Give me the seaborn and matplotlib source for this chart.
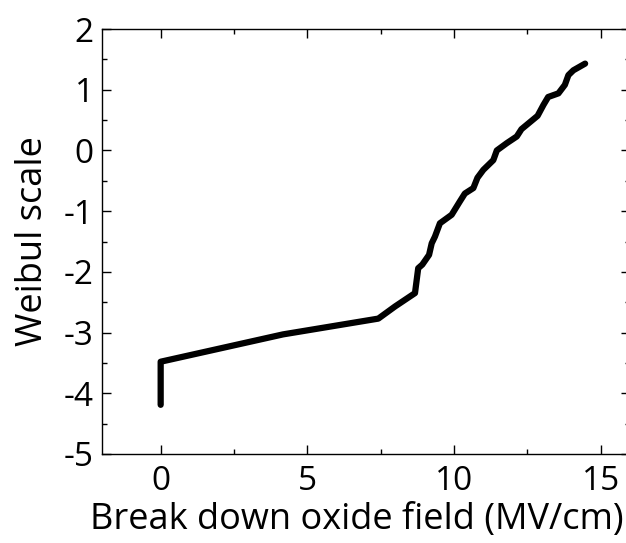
import matplotlib
matplotlib.use('Agg')
import matplotlib.pyplot as plt
from matplotlib.ticker import MultipleLocator
import seaborn as sns
import pandas as pd

# 读出的曲线数据 (击穿场强 vs Weibull)
field = [0.0, 0.0, 4.17, 7.42, 7.99, 8.67, 8.78, 8.92, 9.15, 9.24, 9.35, 9.52,
         9.92, 10.2, 10.37, 10.66, 10.8, 11.0, 11.34, 11.46, 11.8, 12.14, 12.3,
         12.85, 13.05, 13.21, 13.56, 13.78, 13.9, 14.07, 14.47]
weibull = [-4.19, -3.48, -3.03, -2.77, -2.57, -2.35, -1.94, -1.88, -1.72, -1.53,
           -1.42, -1.20, -1.06, -0.84, -0.71, -0.62, -0.45, -0.32, -0.16, 0.0,
           0.12, 0.23, 0.35, 0.57, 0.75, 0.88, 0.94, 1.08, 1.24, 1.32, 1.43]

df = pd.DataFrame({'field': field, 'weibull': weibull})

sns.set_style('ticks')
plt.rcParams['font.family'] = ['Open Sans', 'DejaVu Sans']
plt.rcParams['axes.unicode_minus'] = False
plt.rcParams['text.color'] = 'black'
plt.rcParams['axes.labelcolor'] = 'black'

fig = plt.figure(figsize=(6.26, 5.43), dpi=100)
ax = fig.add_axes([102 / 626, 1 - 454 / 543, (630 - 102) / 626, (454 - 29) / 543])

sns.lineplot(data=df, x='field', y='weibull', sort=False, estimator=None, color='black',
             linewidth=4.5, solid_capstyle='round', solid_joinstyle='round', ax=ax)

ax.set_xlim(-2, 16)
ax.set_ylim(-5, 2)
ax.xaxis.set_major_locator(MultipleLocator(5))
ax.xaxis.set_minor_locator(MultipleLocator(2.5))
ax.yaxis.set_major_locator(MultipleLocator(1))
ax.yaxis.set_minor_locator(MultipleLocator(0.5))
ax.tick_params(which='both', direction='in', top=True, right=True, width=1.0, color='black')
ax.tick_params(which='major', length=6.5, labelsize=24, labelcolor='black')
ax.tick_params(which='minor', length=3.5)
ax.tick_params(axis='x', which='major', pad=8)
ax.tick_params(axis='y', which='major', pad=6)
for s in ax.spines.values():
    s.set_linewidth(1.0)
    s.set_color('black')

# 轴标签 (x 标签稍向左, 避免被右边裁掉)
ax.set_xlabel('Break down oxide field (MV/cm)', fontsize=26, labelpad=3, color='black', x=0.483)
ax.set_ylabel('Weibul scale', fontsize=26, labelpad=9, color='black')

fig.savefig('out.png', dpi=100)
